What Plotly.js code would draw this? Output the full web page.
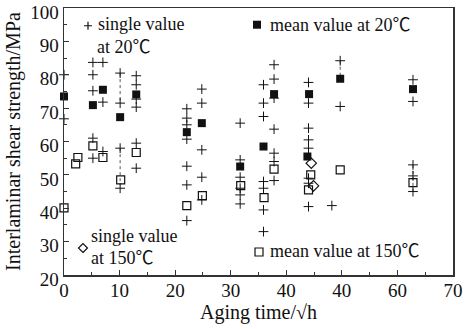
<!DOCTYPE html>
<html>
<head>
<meta charset="utf-8">
<script src="https://cdn.plot.ly/plotly-3.0.1.min.js"></script>
<style>
  html, body { margin: 0; padding: 0; background: #fff; }
  #chart { width: 468px; height: 329px; }
</style>
</head>
<body>
<div id="chart"></div>
<script>
// Interlaminar shear strength versus aging time (square root of hours)

// single measurements at 20 °C
const single20X = [0, 0,
  5.2, 5.2, 5.2, 5.2, 5.2,
  7.0, 7.0, 7.0,
  10.1, 10.1, 10.1, 10.1,
  13.0, 13.0, 13.0, 13.0, 13.0, 13.0,
  22.1, 22.1, 22.1, 22.1, 22.1, 22.1, 22.1,
  24.8, 24.8, 24.8, 24.8, 24.8,
  31.7, 31.7, 31.7, 31.7, 31.7, 31.7,
  35.9, 35.9, 35.9, 35.9, 35.9, 35.9, 35.9,
  37.8, 37.8, 37.8, 37.8, 37.8, 37.8, 37.8,
  44.0, 44.0, 44.0, 44.0, 44.0, 44.0, 44.0, 44.0,
  48.2,
  49.7, 49.7,
  62.8, 62.8, 62.8, 62.8, 62.8];
const single20Y = [80, 66.8,
  83.7, 80, 75.2, 61, 55,
  83.7, 71.8, 57,
  80.5, 71.5, 58, 46,
  79.7, 77, 72.7, 70.3, 59.5, 52,
  69.8, 67, 65, 60.7, 52.6, 47, 36.3,
  75.7, 71.5, 57.5, 49.3, 42.5,
  65.5, 54.5, 49.3, 46, 44, 41.3,
  77, 71.5, 67.5, 48, 46, 39.5, 33,
  83, 78.7, 73, 63.7, 56.5, 54, 48.3,
  77.7, 71.5, 64, 60.5, 58, 49, 47.5, 40.5,
  40.8,
  84.2, 70.5,
  78.5, 72, 53, 49.7, 45];

// spread of the single values, drawn as broken vertical strokes (null separates strokes)
const spreadX = [10.1, 10.1, null, 10.1, 10.1, null, 49.7, 49.7, null, 62.8, 62.8, null, 35.9, 35.9];
const spreadY = [80.5, 72, null, 58, 47, null, 84.2, 79, null, 53, 44.5, null, 49, 45];

// mean values at 20 °C
const mean20X = [0, 5.2, 7.0, 10.1, 13.0, 22.1, 24.8, 31.7, 35.9, 37.8, 43.8, 44.1, 49.7, 62.8];
const mean20Y = [73.5, 70.9, 75.5, 67.3, 74.1, 62.8, 65.5, 52.5, 58.5, 74.2, 55.5, 74.2, 78.8, 75.7];

// single measurements at 150 °C
const single150X = [44.5, 44.9];
const single150Y = [53.5, 46.7];

// mean values at 150 °C
const mean150X = [0, 2.1, 2.5, 5.2, 7.0, 10.2, 13.0, 22.1, 24.9, 31.8, 36.0, 37.8, 44.0, 44.4, 49.7, 62.8];
const mean150Y = [40.1, 53.3, 55.2, 58.7, 55.2, 48.5, 56.7, 40.8, 43.8, 46.8, 43.2, 51.7, 45.5, 50.0, 51.5, 47.7];

// axis ticks
const xTickVals = [0, 10, 20, 30, 40, 50, 60, 70];
const xTickText = ['0', '10', '20', '30', '40', '40', '60', '70'];
const yTickVals = [20, 30, 40, 50, 60, 70, 80, 90, 100];

const serif = "'Times New Roman', 'Liberation Serif', 'Noto Sans CJK SC', serif";
const ink = '#111';

const traces = [
  {
    x: spreadX, y: spreadY, type: 'scatter', mode: 'lines',
    hoverinfo: 'skip', showlegend: false, connectgaps: false,
    line: { color: '#555', width: 1, dash: '3px,3px' }
  },
  {
    x: single20X, y: single20Y, type: 'scatter', mode: 'markers',
    name: 'single value at 20℃', showlegend: false, cliponaxis: false,
    marker: { symbol: 'cross-thin-open', size: 7, color: ink, line: { color: ink, width: 1 } }
  },
  {
    x: mean20X, y: mean20Y, type: 'scatter', mode: 'markers',
    name: 'mean value at 20℃', showlegend: false, cliponaxis: false,
    marker: { symbol: 'square', size: 8, color: ink, line: { width: 0 } }
  },
  {
    x: single150X, y: single150Y, type: 'scatter', mode: 'markers',
    name: 'single value at 150℃', showlegend: false, cliponaxis: false,
    marker: { symbol: 'diamond-open', size: 8, color: ink, line: { color: ink, width: 1.2 } }
  },
  {
    x: mean150X, y: mean150Y, type: 'scatter', mode: 'markers',
    name: 'mean value at 150℃', showlegend: false, cliponaxis: false,
    marker: { symbol: 'square-open', size: 8, color: ink, line: { color: ink, width: 1.2 } }
  }
];

// key symbols, sized in pixels and anchored in paper space
function key(ax, ay, path, fill) {
  return {
    type: 'path', xref: 'paper', yref: 'paper',
    xsizemode: 'pixel', ysizemode: 'pixel', xanchor: ax, yanchor: ay,
    path: path, fillcolor: fill, line: { color: ink, width: fill === ink ? 0 : 1.2 }
  };
}
const squarePath = 'M-4,-4 L4,-4 L4,4 L-4,4 Z';
const shapes = [
  key(0.0617, 0.9336, 'M-4,0 L4,0 M0,-4 L0,4', 'rgba(0,0,0,0)'),
  key(0.4961, 0.9374, squarePath, ink),
  key(0.0488, 0.1012, 'M0,-4.5 L4.5,0 L0,4.5 L-4.5,0 Z', 'rgba(0,0,0,0)'),
  key(0.5013, 0.0862, squarePath, 'rgba(0,0,0,0)')
];

function label(text, x, y) {
  return {
    text: text, xref: 'paper', yref: 'paper', x: x, y: y,
    xanchor: 'left', yanchor: 'middle', showarrow: false, borderpad: 0,
    font: { family: serif, size: 18, color: ink }
  };
}
const annotations = [
  label('single value', 0.0850, 0.9411),
  label('at 20℃', 0.0825, 0.8549),
  label('mean value at 20℃', 0.5270, 0.9374),
  label('single value', 0.0670, 0.1462),
  label('at 150℃', 0.0670, 0.0637),
  label('mean value at 150℃', 0.5270, 0.0900)
];

const axisBase = {
  showline: true, linecolor: '#333', linewidth: 1.5, mirror: true,
  showgrid: false, zeroline: false,
  ticks: 'inside', ticklen: 5, tickwidth: 1.2, tickcolor: '#333',
  ticklabeloverflow: 'allow',
  tickfont: { family: serif, size: 19, color: ink }
};

const layout = {
  width: 468, height: 329,
  margin: { l: 64, r: 15, t: 8, b: 54 },
  paper_bgcolor: '#fff', plot_bgcolor: '#fff',
  font: { family: serif, color: ink },
  showlegend: false,
  xaxis: Object.assign({}, axisBase, {
    range: [0, 70], tickvals: xTickVals, ticktext: xTickText,
    ticklabelstandoff: -2,
    minor: { dtick: 5, tick0: 0, ticks: 'inside', ticklen: 3, tickwidth: 1, tickcolor: '#333' },
    title: { text: 'Aging time/√h', font: { family: serif, size: 20, color: ink }, standoff: 1 }
  }),
  yaxis: Object.assign({}, axisBase, {
    range: [20, 100], tickvals: yTickVals,
    ticklabelshift: 4,
    minor: { dtick: 5, tick0: 0, ticks: 'inside', ticklen: 3, tickwidth: 1, tickcolor: '#333' },
    title: { text: 'Interlaminar shear strength/MPa', font: { family: serif, size: 20, color: ink }, standoff: 4 }
  }),
  shapes: shapes,
  annotations: annotations
};

Plotly.newPlot('chart', traces, layout, { staticPlot: true, displayModeBar: false });
</script>
</body>
</html>
